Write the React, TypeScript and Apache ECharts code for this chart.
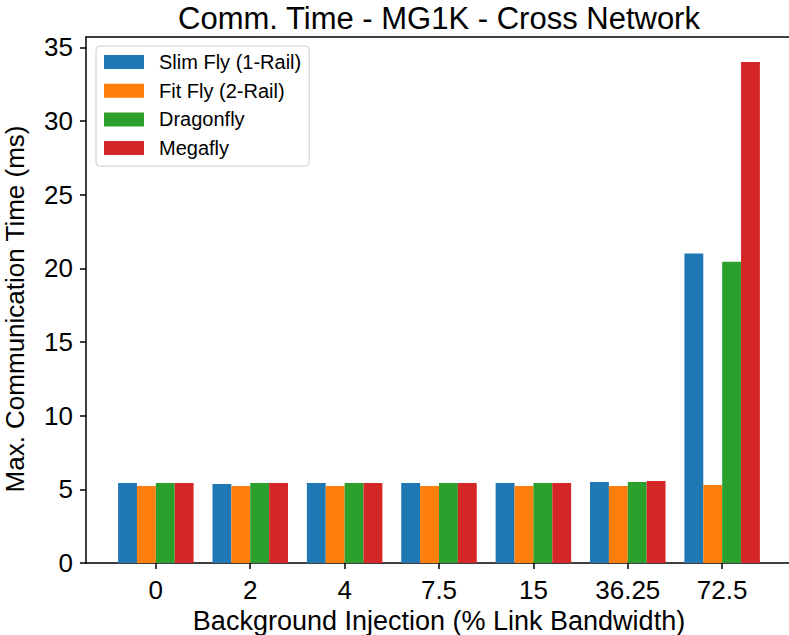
import React, { useEffect, useRef } from "react";
import * as echarts from "echarts";

const categories = ["0", "2", "4", "7.5", "15", "36.25", "72.5"];
const seriesNames = ["Slim Fly (1-Rail)", "Fit Fly (2-Rail)", "Dragonfly", "Megafly"];
const slimFly = [5.43, 5.36, 5.43, 5.43, 5.43, 5.5, 21.0];
const fitFly = [5.22, 5.22, 5.22, 5.22, 5.22, 5.22, 5.29];
const dragonfly = [5.43, 5.43, 5.43, 5.43, 5.43, 5.5, 20.44];
const megafly = [5.43, 5.43, 5.43, 5.43, 5.43, 5.56, 34.0];
const yTicks = [0, 5, 10, 15, 20, 25, 30, 35];
const colors = ["#1f77b4", "#ff7f0e", "#2ca02c", "#d62728"];

const FONT = "'Liberation Sans', Arial, sans-serif";

export default function App() {
  const ref = useRef<HTMLDivElement>(null);
  useEffect(() => {
    if (!ref.current) return;
    const chart = echarts.init(ref.current, null, { renderer: "svg" });
    const allSeries = [slimFly, fitFly, dragonfly, megafly];
    const xIdx = categories.map((_, i) => i);
    chart.setOption({
      animation: false,
      textStyle: { fontFamily: FONT },
      title: {
        text: "Comm. Time - MG1K - Cross Network",
        left: 439,
        textAlign: "center",
        top: 2,
        padding: 0,
        textStyle: { fontFamily: FONT, fontSize: 31, lineHeight: 32, fontWeight: "normal", color: "#000" },
      },
      legend: {
        orient: "vertical",
        left: 96,
        top: 46,
        padding: [6, 8, 8, 8],
        itemWidth: 40,
        itemHeight: 14,
        itemGap: 8.7,
        icon: "rect",
        backgroundColor: "rgba(255,255,255,0.8)",
        borderColor: "#cccccc",
        borderWidth: 1,
        borderRadius: 4,
        textStyle: {
          fontFamily: FONT,
          fontSize: 20,
          lineHeight: 20,
          color: "#000",
          padding: [0, 0, 0, 10],
        },
        data: seriesNames,
      },
      grid: { left: 86, top: 37, width: 706, height: 526, outerBoundsMode: "none", containLabel: false },
      xAxis: [
        {
          type: "value",
          min: -0.74,
          max: 6.74,
          splitLine: { show: false },
          axisLine: { show: true, onZero: false, lineStyle: { color: "#000", width: 1.5 } },
          axisTick: { show: true, length: 6, customValues: xIdx, lineStyle: { color: "#000", width: 1.5 } },
          axisLabel: {
            customValues: xIdx,
            formatter: (v: number) => categories[Math.round(v)] ?? "",
            fontFamily: FONT,
            fontSize: 26,
            color: "#000",
            margin: 14,
          },
          name: "Background Injection (% Link Bandwidth)",
          nameLocation: "middle",
          nameGap: 44,
          nameTextStyle: { fontFamily: FONT, fontSize: 27, color: "#000" },
        },
        {
          type: "value",
          position: "top",
          min: -0.74,
          max: 6.74,
          splitLine: { show: false },
          axisLine: { show: true, onZero: false, lineStyle: { color: "#000", width: 1.5 } },
          axisTick: { show: false },
          axisLabel: { show: false },
        },
      ],
      yAxis: {
        type: "value",
        min: 0,
        max: 35.7,
        splitLine: { show: false },
        axisLine: { show: true, onZero: false, lineStyle: { color: "#000", width: 1.5 } },
        axisTick: { show: true, length: 6, customValues: yTicks, lineStyle: { color: "#000", width: 1.5 } },
        axisLabel: {
          customValues: yTicks,
          fontFamily: FONT,
          fontSize: 26,
          color: "#000",
          margin: 13,
        },
        name: "Max. Communication Time (ms)",
        nameLocation: "middle",
        nameGap: 58,
        nameTextStyle: {
          fontFamily: FONT,
          fontSize: 26,
          lineHeight: 26,
          color: "#000",
          padding: [0, 18, 0, 0],
        },
      },
      series: allSeries.map((vals, s) => ({
        type: "bar",
        name: seriesNames[s],
        xAxisIndex: 0,
        data: vals.map((v, i) => [i, v]),
        barWidth: "20%",
        barGap: "0%",
        itemStyle: { color: colors[s] },
      })),
    });
    return () => chart.dispose();
  }, []);
  return (
    <div
      ref={ref}
      style={{ position: "fixed", left: 0, top: 0, width: 789, height: 635, background: "#fff" }}
    />
  );
}
